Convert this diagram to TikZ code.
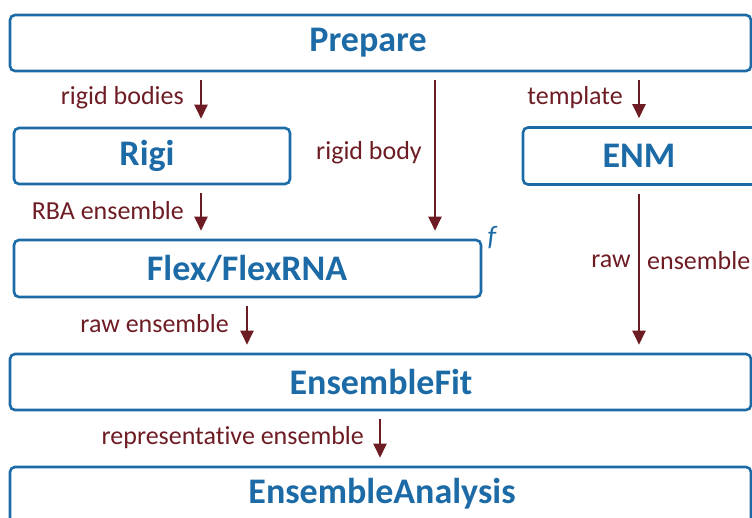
\documentclass[tikz,border=0pt]{standalone}
\usepackage{fontspec}
\setmainfont[Ligatures={NoCommon}]{Carlito}
\usetikzlibrary{arrows.meta}
\definecolor{boxblue}{HTML}{1C6BA6}
\definecolor{arrred}{HTML}{6E1C24}
\tikzset{
  box/.style={draw=boxblue, line width=2.6pt, rounded corners=5pt, inner sep=0pt},
  title/.style={text=boxblue, font=\fontsize{36}{38}\selectfont\bfseries, inner sep=0pt},
  lbl/.style={text=arrred, font=\fontsize{26}{28}\selectfont, inner sep=0pt},
  arr/.style={draw=arrred, line width=2.4pt, -{Triangle[width=13pt,length=14pt]}, shorten <=8pt, shorten >=8pt}
}
\begin{document}
\begin{tikzpicture}[x=1pt,y=-1pt]
\useasboundingbox (0,0) rectangle (752,517);
\begin{scope}
\clip (0,0) rectangle (752,517);
% boxes
\node[box, minimum width=741pt, minimum height=56pt] (prepare) at (380.5,43) {};
\node[box, minimum width=276pt, minimum height=56pt] (rigi) at (152,156) {};
\node[box, minimum width=236pt, minimum height=57pt] (enm) at (641,156) {};
\node[box, minimum width=467pt, minimum height=57pt] (flex) at (247.5,268.5) {};
\node[box, minimum width=741pt, minimum height=56pt] (fit) at (380.5,382) {};
\node[box, minimum width=741pt, minimum height=60pt] (ana) at (380.5,497) {};
\end{scope}
% titles
\node[title] (prepareT) at (368,43) {Prepare};
\node[title] (rigiT) at (147,156) {Rigi};
\node[title] (enmT) at (639,156) {ENM};
\node[title] (flexT) at (247,269) {Flex/FlexRNA};
\node[title] (fitT) at (381,382) {EnsembleFit};
\node[title] (anaT) at (382,494) {EnsembleAnalysis};
\node[text=boxblue, font=\fontsize{28}{30}\selectfont\itshape, inner sep=0pt] (fmark) at (492,238) {f};
% arrow columns
\coordinate (c1) at (201,0);
\coordinate (c2) at (435,0);
\coordinate (c3) at (639,0);
\coordinate (c4) at (247,0);
\coordinate (c5) at (380,0);
% arrows
\draw[arr] (prepare.south -| c1) -- (rigi.north -| c1);
\draw[arr] (prepare.south -| c2) -- (flex.north -| c2);
\draw[arr] (prepare.south -| c3) -- (enm.north -| c3);
\draw[arr] (rigi.south -| c1) -- (flex.north -| c1);
\draw[arr] (flex.south -| c4) -- (fit.north -| c4);
\draw[arr] (enm.south -| c3) -- (fit.north -| c3);
\draw[arr] (fit.south -| c5) -- (ana.north -| c5);
% labels
\node[lbl, anchor=east] (l1) at (184,98) {rigid bodies};
\node[lbl, anchor=east] (l2) at (422,153) {rigid body};
\node[lbl, anchor=east] (l3) at (623,98) {template};
\node[lbl, anchor=east] (l4) at (184,211) {RBA ensemble};
\node[lbl, anchor=east] (l5) at (229,324) {raw ensemble};
\node[lbl, anchor=east] (l6a) at (631,261) {raw};
\node[lbl, anchor=west] (l6b) at (647,261) {ensemble};
\node[lbl, anchor=east] (l7) at (364,438) {representative ensemble};
\end{tikzpicture}
\end{document}
